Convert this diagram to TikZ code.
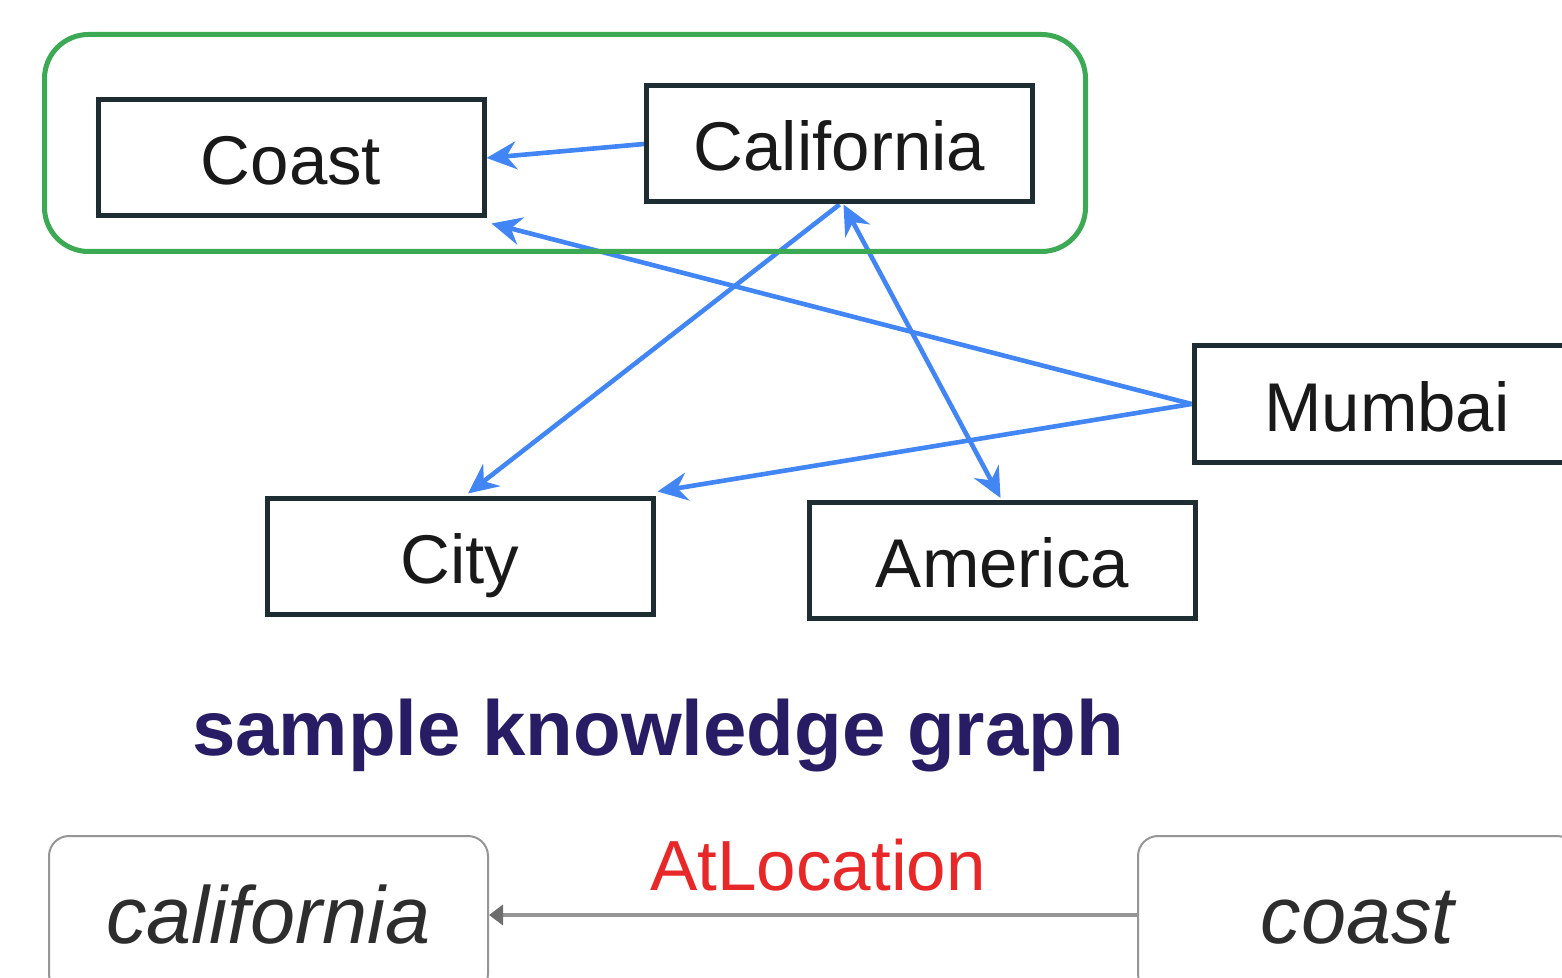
\documentclass[tikz,border=0pt]{standalone}
\usepackage{fontspec}
\setmainfont{Liberation Sans}
\usetikzlibrary{arrows.meta,calc}
\definecolor{gblue}{RGB}{66,133,244}
\definecolor{ggreen}{RGB}{60,170,85}
\definecolor{boxline}{RGB}{30,45,50}
\definecolor{titlecol}{RGB}{40,28,100}
\definecolor{relred}{RGB}{232,40,40}
\definecolor{softgray}{RGB}{150,150,150}
\definecolor{tipgray}{RGB}{110,110,110}
\definecolor{textgray}{RGB}{45,45,45}
\pgfdeclarelayer{arrowlayer}
\pgfsetlayers{arrowlayer,main}
\begin{document}
\begin{tikzpicture}[x=0.5pt,y=-0.5pt,
  entity/.style={draw=boxline, line width=2.5pt, fill=white, minimum width=193pt, minimum height=58pt, inner sep=0pt, text depth=0pt, text height=27pt, font=\fontsize{34.5}{40}\selectfont, text=black!90},
  concept/.style={draw=softgray, line width=1pt, rounded corners=10pt, fill=white, minimum width=219.5pt, minimum height=79pt, inner sep=0pt, text depth=0pt, text height=28pt, font=\fontsize{40.5}{46}\selectfont\itshape, text=textgray},
  grouping/.style={draw=ggreen, line width=2.5pt, rounded corners=22pt, minimum width=520.5pt, minimum height=108.5pt, inner sep=0pt},
  rel/.style={gblue, line width=2.3pt, -{Stealth[length=15pt,width=14pt,inset=5pt]}},
  birel/.style={gblue, line width=2.3pt, {Stealth[length=15pt,width=14pt,inset=5pt]}-{Stealth[length=15pt,width=14pt,inset=5pt]}},
  grayrel/.style={softgray, line width=2.3pt, -{Triangle[length=7pt,width=10pt,color=tipgray]}},
  titletext/.style={anchor=base, text=titlecol, font=\fontsize{39}{44}\selectfont\bfseries, inner sep=0pt},
  reltext/.style={anchor=base, text=relred, font=\fontsize{35.5}{40}\selectfont, inner sep=0pt}
]
\useasboundingbox (0,0) rectangle (1562,978);
\clip (0,0) rectangle (1562,978);

\node[grouping] (group) at (565,143) {};
\node[entity] (coast) at (291,158) {Coast};
\node[entity] (california) at (839.5,144) {California};
\node[entity] (mumbai) at (1387,404) {Mumbai};
\node[entity] (city) at (460,556) {City};
\node[entity] (america) at (1002.5,560.5) {America};

\node[titletext] (title) at (658,755) {sample knowledge graph};

\node[concept] (california2) at (268.5,915) {california};
\node[concept] (coast2) at (1357.5,915) {coast};
\node[reltext] (atloc) at (818,890) {AtLocation};

\begin{pgfonlayer}{arrowlayer}
\draw[rel] (california.west) -- (coast.east);
\draw[rel] (mumbai.west) -- ($(coast.south east)+(5,5)$);
\draw[rel] (mumbai.west) -- ($(city.north east)+(2,-4)$);
\draw[rel] (california.south) -- ($(city.north)+(8,-2)$);
\draw[birel] ($(california.south)+(4,0)$) -- ($(america.north)+(-2,-2)$);
\draw[grayrel] (coast2.west) -- (california2.east);
\end{pgfonlayer}
\end{tikzpicture}
\end{document}
